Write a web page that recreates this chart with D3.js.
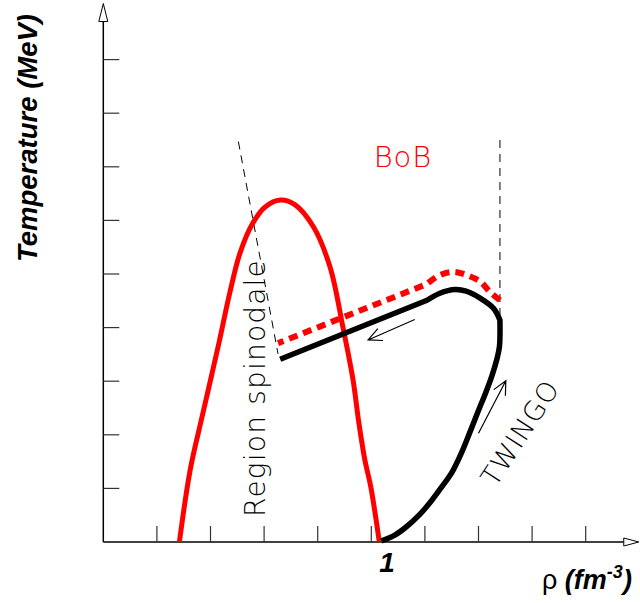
<!DOCTYPE html>
<html>
<head>
<meta charset="utf-8">
<script src="https://cdn.jsdelivr.net/npm/d3@7/dist/d3.min.js"></script>
<style>
  html, body { margin: 0; padding: 0; background: #fff; }
  svg { display: block; }
</style>
</head>
<body>
<svg id="chart" width="640" height="603"></svg>
<script>
// ---------------- DATA (axis units: one tick = 1 unit) ----------------
const xTicks = [1, 2, 3, 4, 5, 6, 7, 8, 9];
const yTicks = [1, 2, 3, 4, 5, 6, 7, 8, 9];
const xTickLabelValues = [5.33];
const xTickLabelTexts = ["1"];

// red solid curve (spinodal / coexistence)
const redX = [1.42, 1.62, 1.83, 2.00, 2.17, 2.36, 2.55, 2.79, 3.02, 3.30, 3.58, 3.92, 4.23, 4.47, 4.66, 4.76, 4.88, 4.99, 5.15];
const redY = [0.00, 1.34, 2.28, 3.02, 3.77, 4.65, 5.39, 5.95, 6.25, 6.38, 6.29, 5.88, 5.13, 4.01, 3.02, 2.28, 1.53, 1.03, 0.00];

// black TWINGO path: rise, turn, then straight back to spinodal
const twingoRiseX = [5.19, 5.44, 5.65, 5.91, 6.13, 6.30, 6.51, 6.69, 6.84, 6.99, 7.14, 7.25, 7.34, 7.39, 7.40];
const twingoRiseY = [0.02, 0.13, 0.28, 0.52, 0.78, 1.01, 1.31, 1.68, 2.05, 2.43, 2.80, 3.10, 3.40, 3.64, 4.14];
const twingoTurnX = [7.40, 7.28, 7.03, 6.77, 6.56, 6.28, 6.04];
const twingoTurnY = [4.14, 4.36, 4.55, 4.68, 4.71, 4.64, 4.51];
const twingoBackX = [6.04, 3.30];
const twingoBackY = [4.51, 3.41];

// red dotted BoB path
const bobTurnX = [7.40, 7.21, 7.03, 6.78, 6.53, 6.28, 6.03];
const bobTurnY = [4.51, 4.67, 4.86, 4.98, 5.04, 4.98, 4.81];
const bobBackX = [6.03, 3.26];
const bobBackY = [4.81, 3.71];

// thin dashed guide lines
const guideLeftX = [2.52, 3.26];
const guideLeftY = [7.47, 3.51];
const guideRightX = [7.40, 7.40];
const guideRightY = [7.50, 4.21];

// arrows [from, to]
const arrowBackX = [5.81, 4.94];
const arrowBackY = [4.15, 3.77];
const arrowUpX = [7.00, 7.51];
const arrowUpY = [2.03, 3.01];

// annotations
const labelBoB = "BoB";
const labelRegion = "Region spinodale";
const labelTwingo = "TWINGO";
const yTitle = "Temperature (MeV)";

// ---------------- DRAW ----------------
const svg = d3.select("#chart");
const x = d3.scaleLinear().domain([0, 10]).range([103.3, 639.3]);
const y = d3.scaleLinear().domain([0, 10]).range([542, 6]);
const zip = (xs, ys) => xs.map((v, i) => [v, ys[i]]);

// axes
const axisEndX = 9.71, axisEndY = 9.71;
svg.append("line").attr("x1", x(0)).attr("y1", y(0)).attr("x2", x(axisEndX)).attr("y2", y(0))
  .attr("stroke", "#000").attr("stroke-width", 1.5);
svg.append("line").attr("x1", x(0)).attr("y1", y(0)).attr("x2", x(0)).attr("y2", y(axisEndY))
  .attr("stroke", "#000").attr("stroke-width", 1.5);
// open arrow heads
svg.append("path")
  .attr("d", `M${x(axisEndX)},${y(0) - 4} L${x(axisEndX) + 15},${y(0)} L${x(axisEndX)},${y(0) + 4} Z`)
  .attr("fill", "#fff").attr("stroke", "#000").attr("stroke-width", 1);
svg.append("path")
  .attr("d", `M${x(0) - 4.5},${y(axisEndY)} L${x(0)},${y(axisEndY) - 18} L${x(0) + 4.5},${y(axisEndY)} Z`)
  .attr("fill", "#fff").attr("stroke", "#000").attr("stroke-width", 1);

// ticks (drawn inward)
svg.append("g").selectAll("line").data(xTicks).join("line")
  .attr("x1", d => x(d)).attr("x2", d => x(d))
  .attr("y1", y(0)).attr("y2", y(0) - 16)
  .attr("stroke", "#333").attr("stroke-width", 1.2);
svg.append("g").selectAll("line").data(yTicks).join("line")
  .attr("y1", d => y(d)).attr("y2", d => y(d))
  .attr("x1", x(0)).attr("x2", x(0) + 16)
  .attr("stroke", "#333").attr("stroke-width", 1.2);

// tick label
svg.append("g").selectAll("text").data(xTickLabelValues).join("text")
  .attr("x", d => x(d) - 2).attr("y", 572)
  .attr("text-anchor", "middle")
  .attr("font-family", "Liberation Sans, Arial, sans-serif")
  .attr("font-weight", "bold").attr("font-style", "italic")
  .attr("font-size", 28)
  .text((d, i) => xTickLabelTexts[i]);

// axis titles
const xt = svg.append("text").attr("x", 542).attr("y", 589)
  .attr("font-family", "Liberation Sans, Arial, sans-serif").attr("font-size", 27);
xt.append("tspan").text("ρ");
xt.append("tspan").attr("font-weight", "bold").attr("font-style", "italic").text(" (fm");
xt.append("tspan").attr("font-weight", "bold").attr("font-style", "italic")
  .attr("font-size", 18).attr("dy", -11).text("-3");
xt.append("tspan").attr("font-weight", "bold").attr("font-style", "italic")
  .attr("dy", 11).text(")");

svg.append("text")
  .attr("transform", "translate(37,138) rotate(-90)")
  .attr("text-anchor", "middle")
  .attr("font-family", "Liberation Sans, Arial, sans-serif")
  .attr("font-weight", "bold").attr("font-style", "italic")
  .attr("font-size", 27.5)
  .text(yTitle);

// guides
const lin = d3.line().x(d => x(d[0])).y(d => y(d[1]));
[[guideLeftX, guideLeftY], [guideRightX, guideRightY]].forEach(([gx, gy]) => {
  svg.append("path").attr("d", lin(zip(gx, gy)))
    .attr("fill", "none").attr("stroke", "#000").attr("stroke-width", 1)
    .attr("stroke-dasharray", "8,6");
});

// red solid curve
const smooth = d3.line().x(d => x(d[0])).y(d => y(d[1])).curve(d3.curveCatmullRom.alpha(0.5));
svg.append("path").attr("d", smooth(zip(redX, redY)))
  .attr("fill", "none").attr("stroke", "#ff0000").attr("stroke-width", 5);

// red dotted BoB
const bobPath = smooth(zip(bobTurnX, bobTurnY)) + lin(zip(bobBackX, bobBackY)).replace(/^M/, "L");
svg.append("path").attr("d", bobPath)
  .attr("fill", "none").attr("stroke", "#ff0000").attr("stroke-width", 6)
  .attr("stroke-dasharray", "9,6");

// black TWINGO
const twPath = smooth(zip(twingoRiseX, twingoRiseY))
  + smooth(zip(twingoTurnX, twingoTurnY)).replace(/^M/, "L")
  + lin(zip(twingoBackX, twingoBackY)).replace(/^M/, "L");
svg.append("path").attr("d", twPath)
  .attr("fill", "none").attr("stroke", "#000").attr("stroke-width", 5.5)
  .attr("stroke-linejoin", "round");

// thin arrows
function arrow(ax, ay) {
  const x1 = x(ax[0]), y1 = y(ay[0]), x2 = x(ax[1]), y2 = y(ay[1]);
  const a = Math.atan2(y2 - y1, x2 - x1);
  const L = 15, w = 0.45;
  const b1 = [x2 - L * Math.cos(a - w), y2 - L * Math.sin(a - w)];
  const b2 = [x2 - L * Math.cos(a + w), y2 - L * Math.sin(a + w)];
  svg.append("path")
    .attr("d", `M${x1},${y1} L${x2},${y2} M${b1[0]},${b1[1]} L${x2},${y2} L${b2[0]},${b2[1]}`)
    .attr("fill", "none").attr("stroke", "#000").attr("stroke-width", 1.2);
}
arrow(arrowBackX, arrowBackY);
arrow(arrowUpX, arrowUpY);

// annotations
const thinFont = "DejaVu Sans, Lato, sans-serif";
svg.append("text").attr("x", 403).attr("y", 167).attr("text-anchor", "middle")
  .attr("font-family", thinFont).attr("font-weight", 200).attr("font-size", 29)
  .attr("letter-spacing", 1)
  .attr("fill", "#ff0000").text(labelBoB);
svg.append("text")
  .attr("transform", "translate(265,388) rotate(-90)")
  .attr("text-anchor", "middle")
  .attr("font-family", thinFont).attr("font-weight", 200).attr("font-size", 28)
  .attr("letter-spacing", 1.2)
  .attr("fill", "#000").text(labelRegion);
svg.append("text")
  .attr("transform", "translate(528,438) rotate(-57)")
  .attr("text-anchor", "middle")
  .attr("font-family", thinFont).attr("font-weight", 200).attr("font-size", 27)
  .attr("letter-spacing", 1)
  .attr("fill", "#000").text(labelTwingo);
</script>
</body>
</html>
